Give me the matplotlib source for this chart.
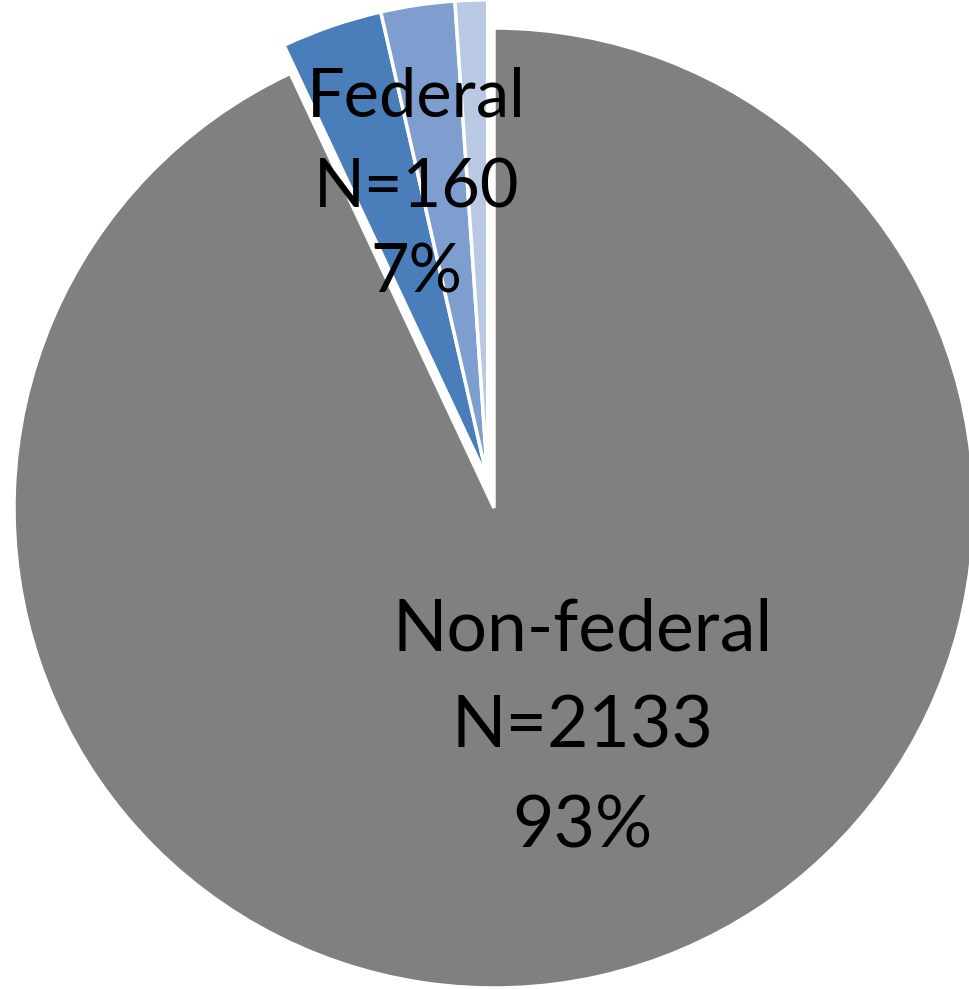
import matplotlib
matplotlib.use("Agg")
import matplotlib.pyplot as plt
import numpy as np

plt.rcParams["font.family"] = ["Lato", "DejaVu Sans"]

# agency split: non-federal vs. federal (federal broken into three parts)
groups = ["Non-federal", "Federal"]
group_counts = [2133, 160]
federal_parts = [78, 57, 25]
colors = ["#808080", "#4A7EBB", "#7E9ECF", "#B9C9E4"]


def main():
    total = sum(group_counts)
    values = [group_counts[0]] + federal_parts

    fig = plt.figure(figsize=(9.69, 9.89), dpi=100)
    ax = fig.add_axes([0, 0, 1, 1])

    wedges, _ = ax.pie(values, colors=colors, startangle=90, counterclock=False,
                       radius=1.0,
                       wedgeprops=dict(edgecolor="white", linewidth=2.5))

    # pull the federal wedges out together along the federal bisector
    fed_theta1 = wedges[-1].theta1
    fed_theta2 = wedges[1].theta2
    mid = np.deg2rad((fed_theta1 + fed_theta2) / 2)
    shift = 0.06
    for w in wedges[1:]:
        w.set_center((shift * np.cos(mid), shift * np.sin(mid)))

    # axes limits so the pie sits off-centre, clipped on the right
    ax.set_xlim(-494 / 480, (969 - 494) / 480)
    ax.set_ylim(-(989 - 508) / 480, 508 / 480)
    ax.set_aspect("auto")
    ax.axis("off")

    labels = [
        (groups[1], group_counts[1], -0.161, [0.815, 0.627, 0.448], 48),
        (groups[0], group_counts[0], 0.184, [-0.296, -0.500, -0.708], 51.5),
    ]
    for name, n, x, ys, size in labels:
        lines = [name, f"N={n}", f"{round(100 * n / total)}%"]
        for line, y in zip(lines, ys):
            ax.text(x, y, line, ha="center", va="baseline", fontsize=size,
                    color="black")

    fig.savefig("out.png", dpi=100)
    plt.close(fig)


if __name__ == "__main__":
    main()
